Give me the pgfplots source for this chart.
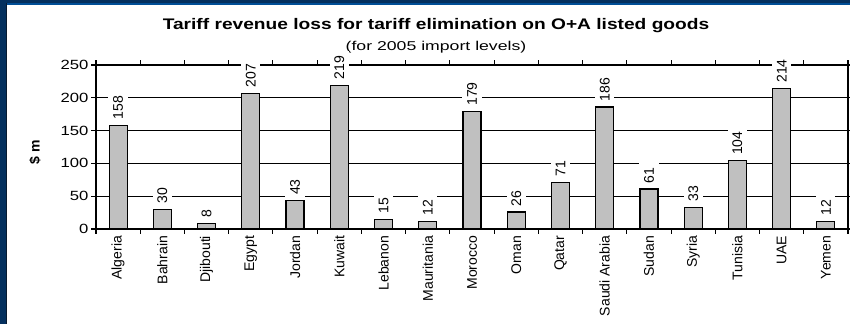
\documentclass[border=0pt]{standalone}
\usepackage{pgfplots}
\pgfplotsset{compat=1.18}
\usepackage{fontspec}
\setmainfont{Liberation Sans}
\newfontfamily\titlefont[FakeStretch=1.25]{Liberation Sans}
\newfontfamily\subfont[FakeStretch=1.38]{Liberation Sans}
\newfontfamily\tickfont[FakeStretch=1.25]{Liberation Sans}
\definecolor{frameA}{RGB}{4,48,94}
\definecolor{frameB}{RGB}{8,26,48}
\definecolor{frameC}{RGB}{0,78,150}
\definecolor{barfill}{RGB}{192,192,192}
\begin{document}
\begin{tikzpicture}
\fill[white] (0,0) rectangle (637.5pt,-243pt);
\fill[frameA] (0,0) rectangle (5.25pt,-243pt);
\fill[frameA] (0,0) rectangle (637.5pt,-2.4pt);
\fill[frameB] (4.6pt,-2.4pt) rectangle (5.25pt,-243pt);
\fill[frameC] (5.25pt,-2.4pt) rectangle (637.5pt,-3.6pt);
\node[anchor=base, font=\titlefont\bfseries\fontsize{11.5}{13}\selectfont, inner sep=0pt] at (327pt,-22.5pt) {Tariff revenue loss for tariff elimination on O+A listed goods};
\node[anchor=base, font=\subfont\fontsize{9.6}{11}\selectfont, inner sep=0pt] at (327pt,-38pt) {(for 2005 import levels)};
\node[rotate=90, font=\bfseries\fontsize{10.5}{12}\selectfont, inner sep=0pt] at (26.25pt,-114pt) {\$ m};
\begin{axis}[
  at={(72pt,-171.75pt)}, anchor=south west, scale only axis,
  width=564pt, height=123pt,
  ymin=0, ymax=250, ytick={0,50,...,250},
  xmin=-0.5, xmax=16.5,
  xtick={-0.5,0.5,...,16.5}, xticklabels={},
  extra x ticks={0,...,16},
  extra x tick labels={Algeria,Bahrain,Djibouti,Egypt,Jordan,Kuwait,Lebanon,Mauritania,Morocco,Oman,Qatar,Saudi Arabia,Sudan,Syria,Tunisia,UAE,Yemen},
  extra x tick style={major tick length=0pt, tick label style={rotate=90, anchor=east, font=\fontsize{10.5}{12}\selectfont, inner xsep=5pt, inner ysep=1pt}},
  tick align=outside, major tick length=3.5pt,
  every tick/.style={black, line width=0.8pt},
  yticklabel style={font=\tickfont\fontsize{10}{12}\selectfont, inner sep=2pt},
  /pgf/number format/assume math mode=true,
  ymajorgrids, grid style={black, line width=0.6pt},
  axis line style={black, line width=0.9pt},
  ybar, bar width=13.5pt,
  clip=false,
  nodes near coords,
  every node near coord/.append style={rotate=90, anchor=west, fill=white, inner xsep=4pt, inner ysep=3.5pt, font=\fontsize{10.5}{12}\selectfont, text=black},
]
\addplot[fill=barfill, draw=black, line width=0.9pt] coordinates {
(0,158) (1,30) (2,8) (3,207) (4,43) (5,219) (6,15) (7,12) (8,179)
(9,26) (10,71) (11,186) (12,61) (13,33) (14,104) (15,214) (16,12)};
\end{axis}
\pgfresetboundingbox
\path[use as bounding box] (0,0) rectangle (637.5pt,-243pt);
\end{tikzpicture}
\end{document}
